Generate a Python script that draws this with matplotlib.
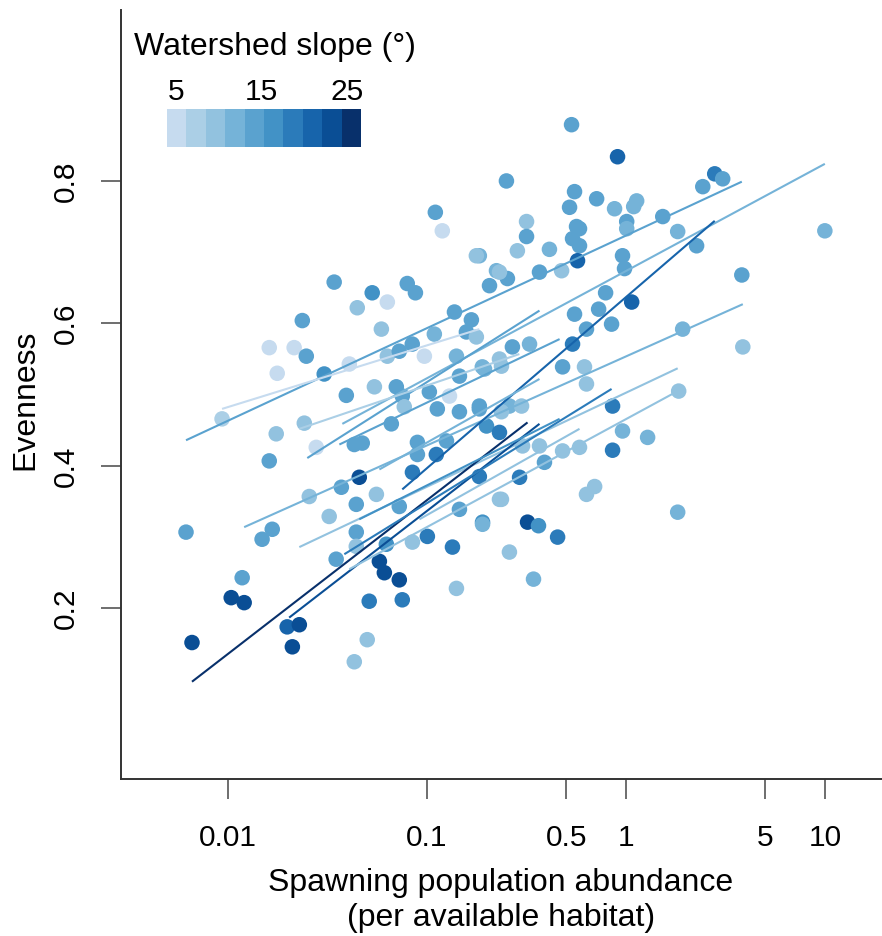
import numpy as np
import matplotlib
matplotlib.use("Agg")
from matplotlib import pyplot as plt
from matplotlib.colors import ListedColormap

plt.rcParams['font.family'] = ['Liberation Sans', 'DejaVu Sans']

# slope-class colours (10 classes, light -> dark)
slope_colors = ["#c6dbef", "#abcfe6", "#92c2df", "#75b3d8", "#5aa2cf",
                "#4292c6", "#2b7bba", "#1764ab", "#0a4e95", "#08306b"]

# points: log10 abundance, evenness, slope class (1..10)
pt_logx = [-0.274, -0.043, -0.601, -0.259, -0.148, -0.284, -0.058, 0.053, 0.038, 0.445,
           0.485, 0.385, -0.500, -0.500, -0.249, -0.234, 0.003, 0.003, 0.184, 0.259,
           -0.546, -0.385, -0.269, -0.234, -0.244, -0.018, -0.008, 0.354, -0.737, -0.651,
           -0.596, -0.686, -0.435, -0.324, 0.581, 0.998, -0.103, 0.028, -0.138, -0.259,
           -0.073, -0.269, -0.199, -0.319, -0.209, -0.199, 0.586, 0.284, 0.264, -0.571,
           -0.485, -0.711, -0.636, -0.737, -0.586, -0.525, -0.068, -0.701, -0.636, -0.520,
           -0.435, -0.319, -0.234, -0.068, -0.018, 0.108, -0.410, -0.535, -0.737, -0.636,
           -0.199, -0.158, 0.259, -0.495, -0.440, -0.344, -0.721, -0.465, -0.586,
           -0.923, -0.958, -0.752, -1.466, -1.275, -1.199, -1.350, -1.099, -1.058, -1.626,
           -0.862, -0.777, -0.636, -1.229, -0.963, -0.802, -0.752, -1.792, -1.667, -1.606,
           -1.752, -1.516, -1.390, -1.199, -1.139, -1.074, -1.013, -0.852, -0.722, -0.626,
           -2.029, -1.405, -1.264, -1.154, -1.124, -0.988, -0.887, -0.837, -0.948, -0.837,
           -0.737, -0.626, -1.757, -1.616, -1.556, -1.792, -1.365, -1.325, -1.179, -1.114,
           -1.048, -1.048, -0.953, -0.902, -1.340, -1.073, -1.430, -1.355, -1.254, -1.139,
           -1.591, -1.491, -0.837, -0.721, -0.626, -2.210, -1.828, -1.777, -1.355, -1.355,
           -1.456, -1.073, -0.998, -0.872, -1.204, -1.928, -1.983, -1.918, -1.290, -1.124,
           -1.239, -1.214, -1.139, -0.852, -1.702, -1.641, -1.676, -2.180, -1.300, -1.365]
pt_even = [0.879, 0.834, 0.800, 0.785, 0.775, 0.763, 0.761, 0.772, 0.764, 0.810,
           0.803, 0.792, 0.743, 0.722, 0.736, 0.733, 0.743, 0.733, 0.750, 0.729,
           0.702, 0.704, 0.719, 0.709, 0.688, 0.695, 0.677, 0.709, 0.695, 0.674,
           0.663, 0.653, 0.672, 0.674, 0.668, 0.730, 0.643, 0.630, 0.620, 0.613,
           0.599, 0.571, 0.592, 0.539, 0.539, 0.515, 0.567, 0.592, 0.505, 0.567,
           0.571, 0.536, 0.550, 0.484, 0.484, 0.484, 0.484, 0.456, 0.447, 0.428,
           0.428, 0.421, 0.426, 0.422, 0.449, 0.440, 0.405, 0.384, 0.385, 0.353,
           0.360, 0.371, 0.335, 0.321, 0.316, 0.300, 0.321, 0.241, 0.279,
           0.730, 0.756, 0.695, 0.658, 0.643, 0.630, 0.622, 0.656, 0.643, 0.604,
           0.616, 0.605, 0.672, 0.592, 0.585, 0.588, 0.581, 0.566, 0.566, 0.554,
           0.530, 0.529, 0.543, 0.554, 0.561, 0.571, 0.554, 0.554, 0.539, 0.540,
           0.466, 0.499, 0.511, 0.511, 0.498, 0.504, 0.498, 0.526, 0.480, 0.476,
           0.480, 0.476, 0.445, 0.460, 0.426, 0.407, 0.430, 0.432, 0.459, 0.483,
           0.433, 0.416, 0.416, 0.435, 0.384, 0.391, 0.370, 0.346, 0.360, 0.343,
           0.357, 0.329, 0.339, 0.318, 0.353, 0.307, 0.297, 0.311, 0.307, 0.287,
           0.269, 0.293, 0.301, 0.286, 0.290, 0.243, 0.215, 0.208, 0.210, 0.212,
           0.266, 0.250, 0.240, 0.228, 0.174, 0.177, 0.146, 0.152, 0.156, 0.125]
pt_slope = [5, 8, 5, 5, 5, 5, 4, 4, 4, 7,
            5, 5, 3, 5, 5, 5, 5, 4, 5, 4,
            3, 4, 5, 5, 8, 5, 5, 5, 4, 4,
            5, 5, 5, 3, 5, 4, 5, 8, 5, 5,
            5, 7, 5, 5, 3, 3, 3, 4, 3, 5,
            4, 4, 3, 5, 4, 3, 7, 6, 7, 3,
            3, 3, 3, 7, 4, 4, 5, 7, 7, 3,
            3, 3, 4, 9, 6, 7, 6, 4, 3,
            1, 5, 3, 5, 6, 1, 3, 5, 5, 5,
            5, 5, 3, 3, 4, 5, 3, 1, 1, 5,
            1, 6, 1, 3, 5, 5, 1, 4, 4, 3,
            2, 5, 3, 5, 5, 5, 1, 5, 5, 5,
            5, 3, 3, 3, 1, 5, 5, 5, 5, 3,
            5, 5, 7, 5, 9, 7, 5, 5, 3, 5,
            3, 3, 5, 4, 3, 5, 5, 5, 5, 3,
            5, 3, 7, 7, 6, 5, 9, 9, 7, 7,
            9, 9, 9, 3, 8, 9, 9, 9, 3, 3]

# fitted lines per watershed: log10 x start/end, evenness start/end, slope class
ln_logx0 = [-2.210, -2.029, -1.425, -1.918, -1.641, -1.601, -1.124, -2.180,
            -1.692, -1.415, -1.390, -1.641, -1.440, -1.239, -1.340, -1.038]
ln_logx1 = [0.581, -0.737, 0.998, 0.586, 0.259, -0.435, 0.445, -0.495,
            -0.435, -0.073, 0.259, -0.536, -0.334, -0.435, -0.334, -0.234]
ln_even0 = [0.436, 0.480, 0.459, 0.314, 0.286, 0.411, 0.367, 0.097,
            0.187, 0.276, 0.255, 0.452, 0.430, 0.395, 0.325, 0.325]
ln_even1 = [0.799, 0.592, 0.824, 0.627, 0.537, 0.618, 0.744, 0.461,
            0.459, 0.508, 0.505, 0.557, 0.578, 0.522, 0.466, 0.452]
ln_slope = [5, 1, 4, 4, 3, 5, 8, 10, 9, 7, 3, 2, 5, 4, 6, 3]

x_ticks = [0.01, 0.1, 0.5, 1, 5, 10]
x_tick_labels = ["0.01", "0.1", "0.5", "1", "5", "10"]
y_ticks = [0.2, 0.4, 0.6, 0.8]
legend_ticks = ["5", "15", "25"]

W, H = 882, 936
fig = plt.figure(figsize=(W / 100, H / 100), dpi=100)
ax = fig.add_axes([120.7 / W, (H - 779.3) / H, (W - 120.7) / W, (779.3 - 10) / H])

pt_x = 10 ** np.array(pt_logx)
pt_c = [slope_colors[s - 1] for s in pt_slope]
ax.scatter(pt_x, pt_even, s=125, c=pt_c, linewidths=0, zorder=2)

for i in range(len(ln_slope)):
    ax.plot([10 ** ln_logx0[i], 10 ** ln_logx1[i]], [ln_even0[i], ln_even1[i]],
            color=slope_colors[ln_slope[i] - 1], lw=1.5, zorder=3,
            solid_capstyle="butt")

ax.set_xscale("log")
ax.set_xlim(10 ** -2.538, 10 ** 1.285)
ax.set_ylim(-0.04, 1.04)
ax.set_xticks(x_ticks)
ax.set_xticklabels(x_tick_labels)
ax.minorticks_off()
ax.set_yticks(y_ticks)
ax.set_yticklabels([str(v) for v in y_ticks], rotation=90, va="center")
ax.tick_params(length=14.4, width=1.2, color="#555555", labelsize=21.5, pad=18)
ax.tick_params(axis="y", pad=15)
for side in ["top", "right"]:
    ax.spines[side].set_visible(False)
for side in ["left", "bottom"]:
    ax.spines[side].set_linewidth(1.4)
    ax.spines[side].set_color("#333333")

fig.text(25 / W, 1 - 400 / H, "Evenness", rotation=90, ha="center", va="center",
         fontsize=23)
fig.text(501 / W, 1 - 891 / H, "Spawning population abundance", ha="center",
         va="baseline", fontsize=23)
fig.text(501 / W, 1 - 926 / H, "(per available habitat)", ha="center",
         va="baseline", fontsize=23)

# slope legend
fig.text(134 / W, 1 - 55 / H, "Watershed slope (\u00b0)", ha="left", va="baseline",
         fontsize=23)
lax = fig.add_axes([167.3 / W, (H - 146.7) / H, 193.4 / W, 37.4 / H])
lax.imshow(np.arange(10).reshape(1, 10), cmap=ListedColormap(slope_colors),
           aspect="auto", interpolation="nearest")
lax.axis("off")
for lab, px in zip(legend_ticks, [176, 261.7, 347]):
    fig.text(px / W, 1 - 100 / H, lab, ha="center", va="baseline", fontsize=21.5)

fig.savefig("out.png", dpi=100)
